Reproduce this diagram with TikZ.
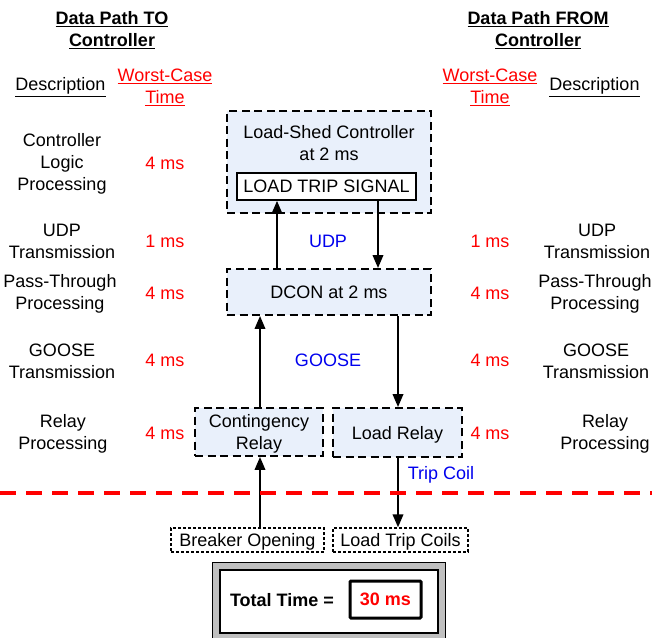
\documentclass[tikz,border=0pt]{standalone}
\usepackage{fontspec}
\setmainfont{Liberation Sans}
\usetikzlibrary{arrows.meta,calc}
\definecolor{boxfill}{HTML}{E9F0FB}
\definecolor{lblue}{HTML}{0000EE}
\definecolor{frame}{HTML}{C0C0C0}
\begin{document}
\begin{tikzpicture}[x=1pt,y=-1pt,
  every node/.style={font=\fontsize{18}{22}\selectfont, inner sep=0pt, align=center},
  dbox/.style={draw, line width=1.9pt, dash pattern=on 8pt off 4.5pt, fill=boxfill},
  dotbox/.style={draw, line width=1.3pt, dash pattern=on 3pt off 2pt, text depth=0pt},
  arr/.style={line width=2pt, -{Triangle[length=13pt,width=10.5pt]}},
  tm/.style={text=red},
  lab/.style={text=lblue},
  hd/.style={font=\fontsize{18}{22}\selectfont\bfseries}]
\useasboundingbox (0,0) rectangle (652,637);

% headings
\node[hd] (h1) at (112,30) {\underline{Data Path TO}\\\underline{Controller}};
\node[hd] (h2) at (538,30) {\underline{Data Path FROM}\\\underline{Controller}};
\node (d1) at (60.5,87) {\underline{Description}};
\node[tm] (w1) at (165,87) {\underline{Worst-Case}\\\underline{Time}};
\node[tm] (w2) at (490,87) {\underline{Worst-Case}\\\underline{Time}};
\node (d2) at (594.5,87) {\underline{Description}};

% left column
\node (l1) at (62,164) {Controller\\Logic\\Processing};
\node[tm] (lt1) at (165,163) {4 ms};
\node (l2) at (62,241) {UDP\\Transmission};
\node[tm] (lt2) at (165,241) {1 ms};
\node (l3) at (60,294) {Pass-Through\\Processing};
\node[tm] (lt3) at (165,293) {4 ms};
\node (l4) at (62,361) {GOOSE\\Transmission};
\node[tm] (lt4) at (165,360) {4 ms};
\node (l5) at (63,434) {Relay\\Processing};
\node[tm] (lt5) at (165,433) {4 ms};

% right column
\node[tm] (rt2) at (490,241) {1 ms};
\node (r2) at (597,241) {UDP\\Transmission};
\node[tm] (rt3) at (490,293) {4 ms};
\node (r3) at (595,294) {Pass-Through\\Processing};
\node[tm] (rt4) at (490,360) {4 ms};
\node (r4) at (596,361) {GOOSE\\Transmission};
\node[tm] (rt5) at (490,433) {4 ms};
\node (r5) at (605,434) {Relay\\Processing};

% central boxes
\node[dbox, minimum width=204pt, minimum height=102pt] (lsc) at (329,162) {};
\node (lsct) at (329,143) {Load-Shed Controller\\at 2 ms};
\node[draw, line width=1.6pt, fill=white, minimum width=179pt, minimum height=27pt] (lts) at (326.5,186.5) {LOAD TRIP SIGNAL};
\node[dbox, minimum width=204pt, minimum height=46pt] (dcon) at (329,292) {DCON at 2 ms};
\node[dbox, text depth=0pt, minimum width=128pt, minimum height=48pt] (cr) at (259,432) {Contingency\\Relay};
\node[dbox, text depth=0pt, minimum width=129pt, minimum height=49pt] (lr) at (397.5,432.5) {Load Relay};
\node[dotbox, minimum width=153pt, minimum height=24pt] (bo) at (247.5,540) {Breaker Opening};
\node[dotbox, minimum width=135pt, minimum height=24pt] (ltc) at (400.5,540) {Load Trip Coils};

% labels
\node[lab] (udp) at (328,241) {UDP};
\node[lab] (goose) at (328,360) {GOOSE};
\node[lab] (trip) at (441,475) {Trip Coil};

% arrows
\coordinate (xa) at (277,0);
\coordinate (xb) at (378,0);
\coordinate (xc) at (260,0);
\coordinate (xd) at (398,0);
\draw[arr] (xa |- dcon.north) -- (xa |- lts.south);
\draw[arr] (xb |- lts.south) -- (xb |- dcon.north);
\draw[arr] (xc |- cr.north) -- (xc |- dcon.south);
\draw[arr] (xd |- dcon.south) -- (xd |- lr.north);
\draw[arr] (xc |- bo.north) -- (xc |- cr.south);
\draw[arr] (xd |- lr.south) -- (xd |- ltc.north);

% red dashed separator
\coordinate (s1) at (0,493);
\coordinate (s2) at (652,493);
\draw[red, line width=3.5pt, dash pattern=on 16pt off 10pt] (s1) -- (s2);

% total time
\node[draw, line width=1pt, fill=frame, minimum width=233pt, minimum height=80pt] (outer) at (328.5,602) {};
\node[draw, line width=1.5pt, fill=white, minimum width=218pt, minimum height=63pt] (inner) at (329,601.5) {};
\node[font=\fontsize{18}{22}\selectfont\bfseries] (tt) at (282,600) {Total Time =};
\node[draw, line width=3pt, rounded corners=1pt, minimum width=71pt, minimum height=37pt, text=red, font=\fontsize{18}{22}\selectfont\bfseries] (ms) at (385.5,599.5) {30 ms};
\end{tikzpicture}
\end{document}
